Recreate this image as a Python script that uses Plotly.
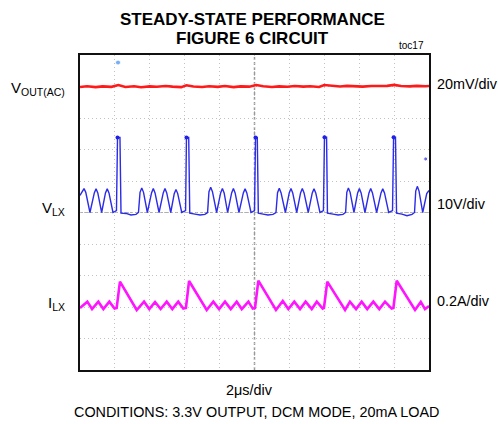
import plotly.graph_objects as go

# ---------------- data ----------------
# time axis in microseconds (2 us/div, 10 divisions)
VOUT_T = [0, 0.4, 0.9, 1.3, 1.8, 2.2, 2.6, 3.1, 3.5, 4.0, 4.4, 4.9, 5.3, 5.8, 6.1, 6.5,
          7.0, 7.4, 7.9, 8.3, 8.8, 9.2, 9.7, 10.1, 10.5, 11.0, 11.4, 11.9, 12.3, 12.8,
          13.2, 13.7, 14.0, 14.4, 14.9, 15.3, 15.8, 16.2, 16.7, 17.1, 17.6, 18.0, 18.4,
          18.9, 19.3, 19.8, 20.0]
VOUT_MV = [-0.3, 0.2, -0.4, 0.1, -0.2, 0.9, -0.3, 0.2, -0.5, 0.1, -0.2, 0.3, -0.1, -0.4, 0.8, 0.0,
           -0.3, 0.2, -0.2, 0.3, -0.4, 0.1, -0.1, 0.9, 0.2, -0.3, 0.1, -0.2, 0.3, -0.1,
           0.2, -0.3, 0.9, 0.3, 0.0, 0.4, 0.1, -0.1, 0.3, 0.2, 0.4, 1.0, 0.3, 0.1, 0.4, 0.2, 0.3]

VLX_T = [0.00, 0.13, 0.23, 0.33, 0.57, 0.82, 0.92, 1.02, 1.24, 1.46, 1.56, 1.66, 1.89,
         2.09, 2.15, 2.29, 2.35, 2.64, 2.92, 3.21, 3.35,
         3.44, 3.54, 3.64, 3.86, 4.10, 4.20, 4.30, 4.53, 4.77, 4.87, 4.97, 5.20, 5.40, 5.50, 5.60, 5.83,
         6.05, 6.10, 6.23, 6.29, 6.59, 6.88, 7.16, 7.31,
         7.39, 7.49, 7.59, 7.83, 8.06, 8.16, 8.26, 8.46, 8.69, 8.79, 8.89, 9.11, 9.36, 9.46, 9.56, 9.80,
         10.00, 10.06, 10.16, 10.22, 10.49, 10.77, 11.06, 11.23,
         11.32, 11.42, 11.52, 11.77, 11.99, 12.09, 12.19, 12.42, 12.64, 12.74, 12.84, 13.08, 13.31, 13.41, 13.51, 13.75,
         13.95, 14.01, 14.13, 14.18, 14.50, 14.79, 15.07, 15.22,
         15.29, 15.38, 15.48, 15.70, 15.91, 16.01, 16.11, 16.33, 16.56, 16.66, 16.76, 17.00, 17.25, 17.35, 17.45, 17.69,
         17.91, 17.97, 18.08, 18.14, 18.45, 18.74, 19.03, 19.17,
         19.24, 19.33, 19.43, 19.64, 19.87, 20.00]
VLX_V = [5.4, 6.6, 7.6, 6.4, 0.0, 6.2, 7.5, 6.2, 0.0, 6.2, 7.5, 6.2, 0.0,
         0.6, 23.8, 23.8, -0.2, -0.3, -0.8, -0.6, 0.0,
         6.4, 7.8, 6.4, 0.0, 6.2, 7.6, 6.2, 0.0, 6.2, 7.6, 6.2, 0.0, 6.0, 7.3, 6.0, 0.0,
         0.6, 23.8, 23.8, -0.2, -0.5, -0.8, -0.6, 0.0,
         6.6, 8.0, 6.6, 0.0, 6.2, 7.6, 6.2, 0.0, 6.2, 7.6, 6.2, 0.0, 6.2, 7.5, 6.2, 0.0,
         0.6, 23.8, 23.8, -0.2, -0.5, -0.8, -0.6, 0.0,
         6.3, 7.7, 6.3, 0.0, 6.2, 7.6, 6.2, 0.0, 6.2, 7.6, 6.2, 0.0, 6.2, 7.5, 6.2, 0.0,
         0.6, 23.9, 23.9, -0.2, -0.5, -0.8, -0.6, 0.0,
         6.4, 7.8, 6.4, 0.0, 6.2, 7.6, 6.2, 0.0, 6.2, 7.6, 6.2, 0.0, 6.2, 7.5, 6.2, 0.0,
         0.6, 23.9, 23.9, -0.2, -0.5, -1.0, -0.6, 0.0,
         6.8, 8.3, 6.8, 0.0, 6.0, 7.0]

SPIKE_T = [2.15, 6.10, 10.06, 14.01, 17.97]
SPIKE_V = [23.8, 23.8, 23.8, 23.9, 23.9]
STRAY_T = [2.18, 19.81]
STRAY_V = [47.6, 17.0]

ILX_T = [0.00, 0.42, 0.69, 1.05, 1.34, 1.68, 1.98, 2.10, 2.29, 3.25,
         3.67, 3.97, 4.30, 4.62, 4.97, 5.29, 5.63, 5.92, 6.07, 6.25, 7.26,
         7.64, 7.97, 8.31, 8.64, 8.98, 9.27, 9.65, 9.90, 10.03, 10.22, 11.23,
         11.62, 11.94, 12.28, 12.61, 12.93, 13.28, 13.57, 13.91, 13.98, 14.17, 15.19,
         15.47, 15.82, 16.14, 16.46, 16.81, 17.15, 17.48, 17.86, 17.96, 18.15, 19.20,
         19.53, 19.77, 20.00]
ILX_A = [-0.006, 0.034, -0.013, 0.034, -0.013, 0.034, -0.010, -0.006, 0.161, -0.019,
         0.034, -0.013, 0.032, -0.013, 0.034, -0.013, 0.034, -0.010, -0.006, 0.165, -0.019,
         0.034, -0.013, 0.034, -0.013, 0.034, -0.013, 0.034, -0.010, -0.006, 0.167, -0.019,
         0.038, -0.013, 0.034, -0.013, 0.034, -0.013, 0.034, -0.010, -0.006, 0.161, -0.019,
         0.034, -0.013, 0.034, -0.013, 0.034, -0.013, 0.034, -0.010, -0.006, 0.167, -0.019,
         0.032, -0.013, 0.006]

FONT = "Liberation Sans, Arial, sans-serif"

fig = go.Figure()
fig.add_trace(go.Scatter(x=VOUT_T, y=VOUT_MV, yaxis="y2", mode="lines",
                         line=dict(color="#ff1a1a", width=2.6),
                         hoverinfo="skip"))
fig.add_trace(go.Scatter(x=VLX_T, y=VLX_V, yaxis="y", mode="lines",
                         line=dict(color="#2b2be8", width=1.4),
                         hoverinfo="skip"))
fig.add_trace(go.Scatter(x=SPIKE_T, y=SPIKE_V, yaxis="y", mode="markers",
                         marker=dict(color="#2020e8", size=4), hoverinfo="skip"))
fig.add_trace(go.Scatter(x=STRAY_T, y=STRAY_V, yaxis="y", mode="markers",
                         marker=dict(color=["#3d8ff0", "#2a2ae8"], size=[5, 4]),
                         hoverinfo="skip"))
fig.add_trace(go.Scatter(x=ILX_T, y=ILX_A, yaxis="y3", mode="lines",
                         line=dict(color="#ff14ff", width=2.6), hoverinfo="skip"))

axis_common = dict(showgrid=True, gridcolor="#c2c2c2", gridwidth=1, griddash="1px,3px",
                   zeroline=False, showticklabels=False, ticks="",
                   showline=True, mirror=True, linecolor="#111111", linewidth=2)

fig.update_layout(
    width=498, height=424,
    margin=dict(l=80, r=69, t=55, b=54),
    paper_bgcolor="white", plot_bgcolor="white",
    showlegend=False,
    font=dict(family=FONT, color="black"),
    xaxis=dict(range=[0, 20], dtick=2, tick0=0, **axis_common),
    yaxis=dict(range=[-50, 50], dtick=10, tick0=0, **axis_common),
    yaxis2=dict(range=[-180, 20], overlaying="y", visible=False),
    yaxis3=dict(range=[-0.4, 1.6], overlaying="y", visible=False),
)

# center graticule lines
fig.add_shape(type="line", xref="x", yref="paper", x0=10, x1=10, y0=0, y1=1,
              line=dict(color="#9a9a9a", width=1.5, dash="3px,2px"), layer="below")
fig.add_shape(type="line", xref="paper", yref="y", x0=0, x1=1, y0=0, y1=0,
              line=dict(color="#b0b0b0", width=1.2, dash="3px,2px"), layer="below")

def ann(text, x, y, size, xanchor="center", bold=False):
    fig.add_annotation(text=f"<b>{text}</b>" if bold else text, x=x, y=y,
                       xref="paper", yref="paper", xanchor=xanchor, yanchor="middle",
                       showarrow=False, font=dict(family=FONT, size=size, color="black"))

ann("STEADY-STATE PERFORMANCE", 0.4957, 1.1133, 17, bold=True)
ann("FIGURE 6 CIRCUIT", 0.494, 1.0514, 17, bold=True)
ann("toc17", 0.9906, 1.0286, 10, xanchor="right")
ann("2μs/div", 0.486, -0.0635, 14.4)
ann("CONDITIONS: 3.3V OUTPUT, DCM MODE, 20mA LOAD", 0.507, -0.1333, 14.4)

ann("V<sub>OUT(AC)</sub>", -0.0372, 0.895, 15, xanchor="right")
ann("V<sub>LX</sub>", -0.0372, 0.512, 15, xanchor="right")
ann("I<sub>LX</sub>", -0.0372, 0.211, 15, xanchor="right")

ann("20mV/div", 1.0172, 0.9079, 14.4, xanchor="left")
ann("10V/div", 1.0172, 0.527, 14.4, xanchor="left")
ann("0.2A/div", 1.0172, 0.219, 14.4, xanchor="left")

fig.write_html("out.html", config={"displayModeBar": False},
               post_script="document.body.style.margin='0px';")
